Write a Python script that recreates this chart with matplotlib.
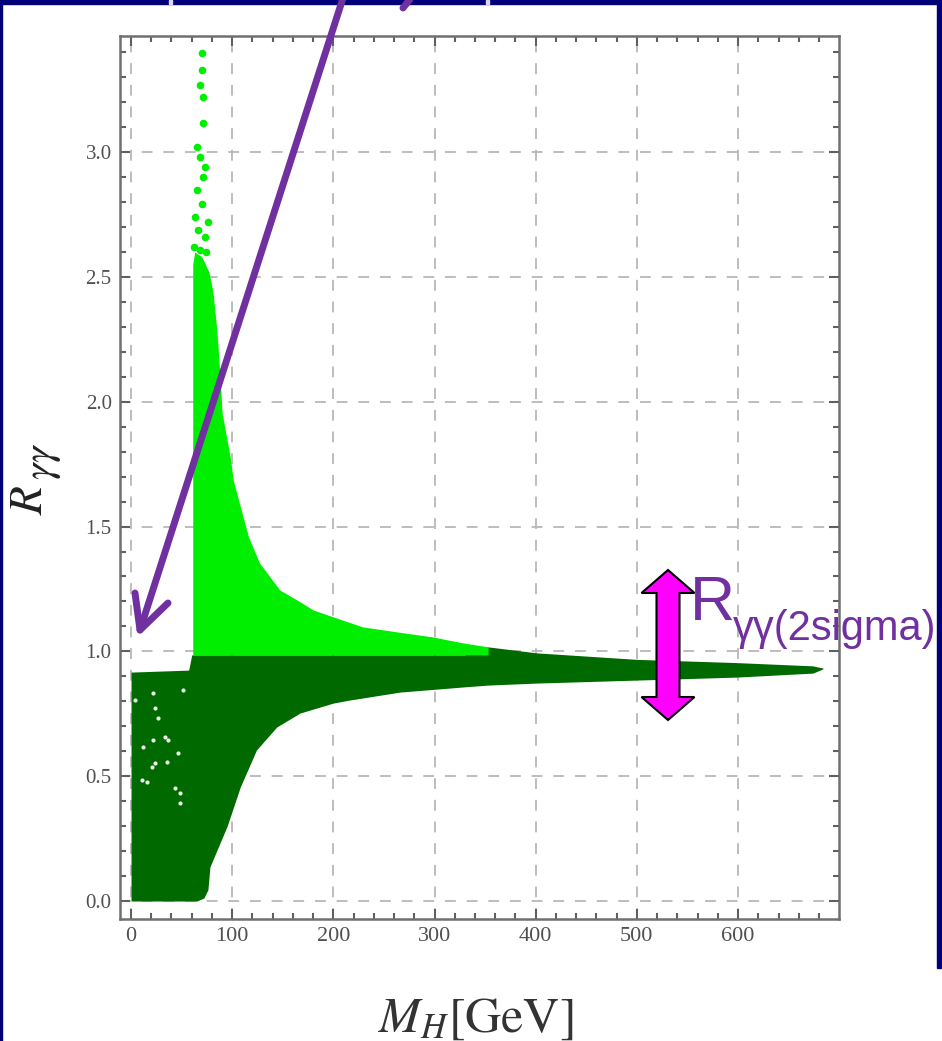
import matplotlib
matplotlib.use('Agg')
import matplotlib.pyplot as plt
from matplotlib.lines import Line2D
from matplotlib.patches import Polygon, Rectangle
from matplotlib.ticker import MultipleLocator

plt.rcParams['mathtext.fontset'] = 'stix'

# ---------------- data ----------------
# dark-green band (all scan points): x = M_H [GeV], lower / upper R_gammagamma
dark_x     = [0, 57, 60, 65, 72, 76, 78, 95, 108, 124, 144, 167, 200, 216, 266, 315, 330, 353, 401, 500, 599, 674, 684]
dark_lower = [0.0, 0.0, 0.0, 0.0, 0.012, 0.045, 0.137, 0.30, 0.457, 0.605, 0.697, 0.753, 0.793, 0.805, 0.837, 0.853,
              0.858, 0.865, 0.873, 0.885, 0.897, 0.913, 0.930]
dark_upper = [0.917, 0.925, 0.986, 0.986, 0.986, 0.986, 0.986, 0.986, 0.986, 0.986, 0.986, 0.986, 0.986, 0.986, 0.986,
              0.986, 0.986, 1.018, 0.994, 0.968, 0.955, 0.942, 0.933]

# light-green band (enhanced region)
light_x     = [61, 63, 70, 77, 81, 85, 88, 90, 98, 101, 108, 116, 127, 137, 147, 164, 180, 200, 229, 263, 298, 328, 353]
light_upper = [2.55, 2.60, 2.58, 2.52, 2.44, 2.28, 2.10, 1.955, 1.78, 1.687, 1.58, 1.46, 1.354, 1.30, 1.246, 1.206,
               1.166, 1.138, 1.098, 1.078, 1.058, 1.034, 1.018]
light_lower = [0.986] * len(light_x)

# isolated light-green points in the spike
spike_x = [69.9, 69.9, 68.2, 71.5, 71.5, 64.9, 68.2, 73.1, 71.5, 64.9, 69.9, 66.5, 73.1, 68.2, 63.0, 76.0,
           62.0, 66.0, 74.0]
spike_y = [3.395, 3.328, 3.268, 3.221, 3.115, 3.021, 2.981, 2.941, 2.901, 2.848, 2.794, 2.688, 2.661, 2.607, 2.74, 2.72,
           2.62, 2.57, 2.60]

# holes (white specks) inside the dark-green region
hole_x = [22, 24, 27, 34, 37, 22, 21, 24, 11, 16, 46, 48, 48, 43, 36, 12, 51, 4]
hole_y = [0.833, 0.773, 0.733, 0.657, 0.645, 0.645, 0.537, 0.553, 0.485, 0.477, 0.593, 0.433, 0.393, 0.453,
          0.557, 0.617, 0.845, 0.805]

x_ticks = [0, 100, 200, 300, 400, 500, 600]
y_ticks = [0.0, 0.5, 1.0, 1.5, 2.0, 2.5, 3.0]

# ---------------- figure ----------------
W, H = 942, 1041
fig = plt.figure(figsize=(W / 100, H / 100), dpi=100)
fig.patch.set_facecolor('white')


def P(x, y):
    return (x / W, 1 - y / H)


navy = '#000078'
# slide frame pieces
fig.add_artist(Rectangle(P(0, 4), 1, 4 / H, transform=fig.transFigure, color=navy, zorder=0))
fig.add_artist(Rectangle(P(0, H), 2 / W, 1, transform=fig.transFigure, color=navy, zorder=0))
fig.add_artist(Rectangle(P(937, 968), 5 / W, 968 / H, transform=fig.transFigure, color=navy, zorder=0))
for sx in (169, 486):
    fig.add_artist(Rectangle(P(sx, 4), 2.5 / W, 4 / H, transform=fig.transFigure, color='#d8d8f0', zorder=1))

ax = fig.add_axes([120 / W, 1 - 919 / H, 719 / W, 883 / H])
ax.set_xlim(-10.9, 699.8)
ax.set_ylim(-0.072, 3.465)

ax.fill_between(dark_x, dark_lower, dark_upper, color='#006A00', lw=0, zorder=2)
ax.fill_between(light_x, light_lower, light_upper, color='#00EE00', lw=0, zorder=3)
ax.scatter(spike_x, spike_y, s=30, color='#00EE00', lw=0, zorder=3)
ax.scatter(hole_x, hole_y, s=9, color='#e8f0e8', lw=0, zorder=4)

ax.set_axisbelow(True)
ax.grid(True, which='major', color='#b8b8b8', lw=1.3, linestyle=(0, (6, 6)))

ax.set_xticks(x_ticks)
ax.set_yticks(y_ticks)
ax.set_yticklabels([f'{v:.1f}' for v in y_ticks])
ax.xaxis.set_minor_locator(MultipleLocator(20))
ax.yaxis.set_minor_locator(MultipleLocator(0.1))
ax.tick_params(which='both', direction='in', top=True, right=True, colors='#606060', width=1.5)
ax.tick_params(which='major', length=7, pad=6, labelcolor='#505050')
ax.tick_params(axis='y', which='major', labelsize=15)
ax.tick_params(axis='x', which='major', labelsize=16)
ax.tick_params(which='minor', length=4)
for lab in ax.get_xticklabels() + ax.get_yticklabels():
    lab.set_family('Liberation Serif')
for sp in ax.spines.values():
    sp.set_color('#707070')
    sp.set_linewidth(1.8)

# axis labels
fig.text(*P(30, 500), r'$R$', rotation=90, ha='center', va='center', fontsize=34, color='#222222')
fig.text(*P(42, 461), r'$\gamma\gamma$', rotation=90, ha='center', va='center', fontsize=30, color='#222222')
fig.text(*P(476, 1032), r'$M_H[\mathrm{GeV}]$', ha='center', va='baseline', fontsize=36, color='#333333')

# purple arrow
purple = '#7030A0'
for xs, ys in ([(343, 140), (-2, 630)], [(135, 140, 168), (593, 630, 603)], [(411, 403), (-2, 8)]):
    pts = [P(a, b) for a, b in zip(xs, ys)]
    fig.add_artist(Line2D([p[0] for p in pts], [p[1] for p in pts], transform=fig.transFigure,
                          color=purple, lw=5, solid_capstyle='round', solid_joinstyle='round', zorder=10))

# magenta double arrow
cx = 668
verts = [(cx, 570), (cx + 26.5, 593), (cx + 11.5, 593), (cx + 11.5, 697), (cx + 26.5, 697), (cx, 720),
         (cx - 26.5, 697), (cx - 11.5, 697), (cx - 11.5, 593), (cx - 26.5, 593)]
fig.add_artist(Polygon([P(a, b) for a, b in verts], closed=True, transform=fig.transFigure,
                       facecolor='#FF00FF', edgecolor='black', lw=1.5, zorder=10))

fig.text(*P(690, 620), 'R', family='Liberation Sans', fontsize=45, color=purple, ha='left', va='baseline', zorder=11)
fig.text(*P(733, 640), 'γγ(2sigma)', family='Liberation Sans', fontsize=30, color=purple, ha='left',
         va='baseline', zorder=11)

fig.savefig('out.png', dpi=100, facecolor='white')
